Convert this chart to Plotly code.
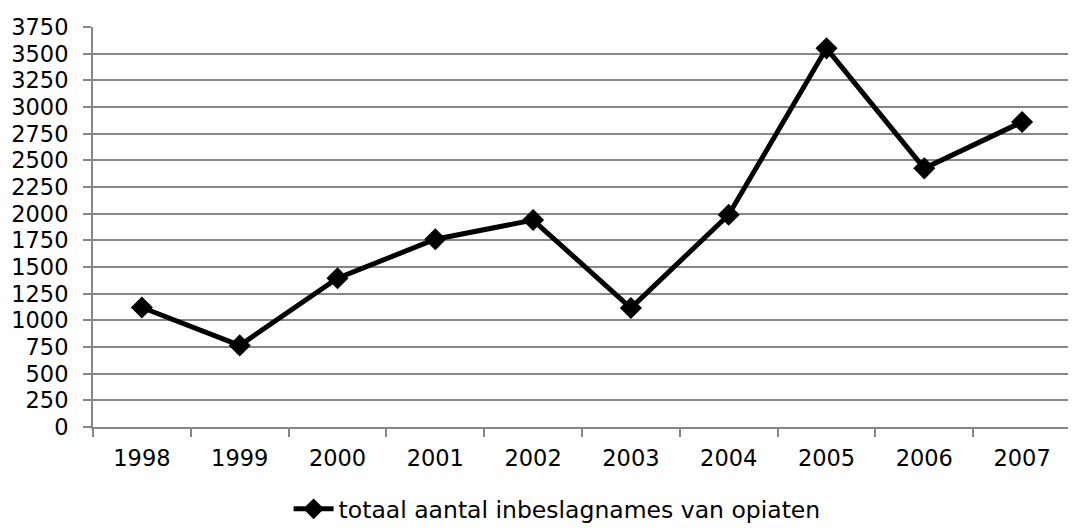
import plotly.graph_objects as go

years = ["1998", "1999", "2000", "2001", "2002", "2003", "2004", "2005", "2006", "2007"]
values = [1120, 765, 1395, 1760, 1940, 1115, 1990, 3550, 2425, 2860]
y_ticks = list(range(0, 3751, 250))
series_name = "totaal aantal inbeslagnames van opiaten"

fig = go.Figure()
fig.add_trace(go.Scatter(
    x=years, y=values, mode="lines+markers", name=series_name,
    line=dict(color="black", width=5),
    marker=dict(symbol="diamond", size=17, color="black"),
))

font = dict(family="DejaVu Sans, Verdana, sans-serif", size=22.5, color="black")

fig.update_layout(
    width=1068, height=528,
    margin=dict(l=85, r=5, t=19, b=100),
    paper_bgcolor="white", plot_bgcolor="white",
    font=font,
    showlegend=True,
    legend=dict(orientation="h", x=0.2, xanchor="left", y=-0.15, yanchor="top",
                font=dict(family="DejaVu Sans, Verdana, sans-serif", size=23.5, color="black"),
                itemwidth=40),
)
fig.update_xaxes(
    type="category", range=[-0.5, 9.5], automargin=False,
    showline=True, linecolor="#868686", linewidth=2,
    ticks="outside", tickson="boundaries", ticklen=8, tickcolor="#868686", tickwidth=2,
    showgrid=False, ticklabelstandoff=10,
)
fig.update_yaxes(
    range=[0, 3750], tickvals=y_ticks, automargin=False, ticklabeloverflow="allow",
    showline=True, linecolor="#868686", linewidth=2,
    ticks="outside", ticklen=8, tickcolor="#868686", tickwidth=2,
    showgrid=True, gridcolor="#868686", gridwidth=2,
    zeroline=False, ticklabelstandoff=10,
)

fig.write_html("out.html")
